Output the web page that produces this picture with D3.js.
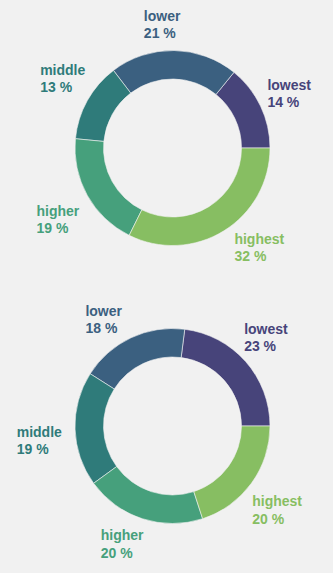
<!DOCTYPE html>
<html>
<head>
<meta charset="utf-8">
<script src="https://cdn.jsdelivr.net/npm/d3@7"></script>
<style>
  html, body { margin: 0; padding: 0; background: #f1f1f1; }
  svg { display: block; }
  text { font-family: "Liberation Sans", Arial, sans-serif; font-weight: bold; font-size: 14px; }
</style>
</head>
<body>
<svg id="chart" width="333" height="573"></svg>
<script>
// Share of each group, two breakdowns
const groups = ["lowest", "lower", "middle", "higher", "highest"];
const sharesTop = [14, 21, 13, 19, 32];
const sharesBottom = [23, 18, 19, 20, 20];

const palette = ["#47447a", "#3b6080", "#2f7b7a", "#46a07c", "#87be62"];

// label placement: angular nudge (deg) and radius for each group
const labelTweakTop = [[0.2, 129], [-5.7, 124], [3.3, 130], [-2.8, 135], [-9.3, 132]];
const labelTweakBottom = [[-2.2, 129], [-7.6, 127], [-4.25, 134], [5.2, 128], [2.7, 134]];

const svg = d3.select("#chart");
const color = d3.scaleOrdinal().domain(groups).range(palette);

const outerR = 97.5, innerR = 69;
const arc = d3.arc().innerRadius(innerR).outerRadius(outerR);
const pie = d3.pie()
  .value(d => d.value)
  .sort(null)
  .startAngle(Math.PI / 2)
  .endAngle(Math.PI / 2 - 2 * Math.PI);

function donut(values, cx, cy, tweaks) {
  const data = groups.map((g, i) => ({ group: g, value: values[i] }));
  const g = svg.append("g").attr("transform", `translate(${cx},${cy})`);

  const slices = pie(data);
  g.selectAll("path")
    .data(slices)
    .join("path")
    .attr("d", arc)
    .attr("fill", d => color(d.data.group))
    .attr("stroke", "#f1f1f1")
    .attr("stroke-width", 0.6);

  const labels = g.selectAll("g.label")
    .data(slices)
    .join("g")
    .attr("class", "label")
    .attr("fill", d => color(d.data.group));

  labels.append("text").attr("class", "name").text(d => d.data.group);
  labels.append("text").attr("class", "pct").attr("dy", 17.3).text(d => d.data.value + " %");

  labels.each(function (d, i) {
    const sel = d3.select(this);
    const w = Math.max(
      sel.select(".name").node().getComputedTextLength(),
      sel.select(".pct").node().getComputedTextLength()
    );
    const mid = (d.startAngle + d.endAngle) / 2 + tweaks[i][0] * Math.PI / 180;
    const r = tweaks[i][1];
    const x = r * Math.sin(mid), y = -r * Math.cos(mid);
    sel.attr("transform", `translate(${x - w / 2},${y - 3.4})`);
  });
}

donut(sharesTop, 172.5, 148, labelTweakTop);
donut(sharesBottom, 172.5, 426, labelTweakBottom);
</script>
</body>
</html>
